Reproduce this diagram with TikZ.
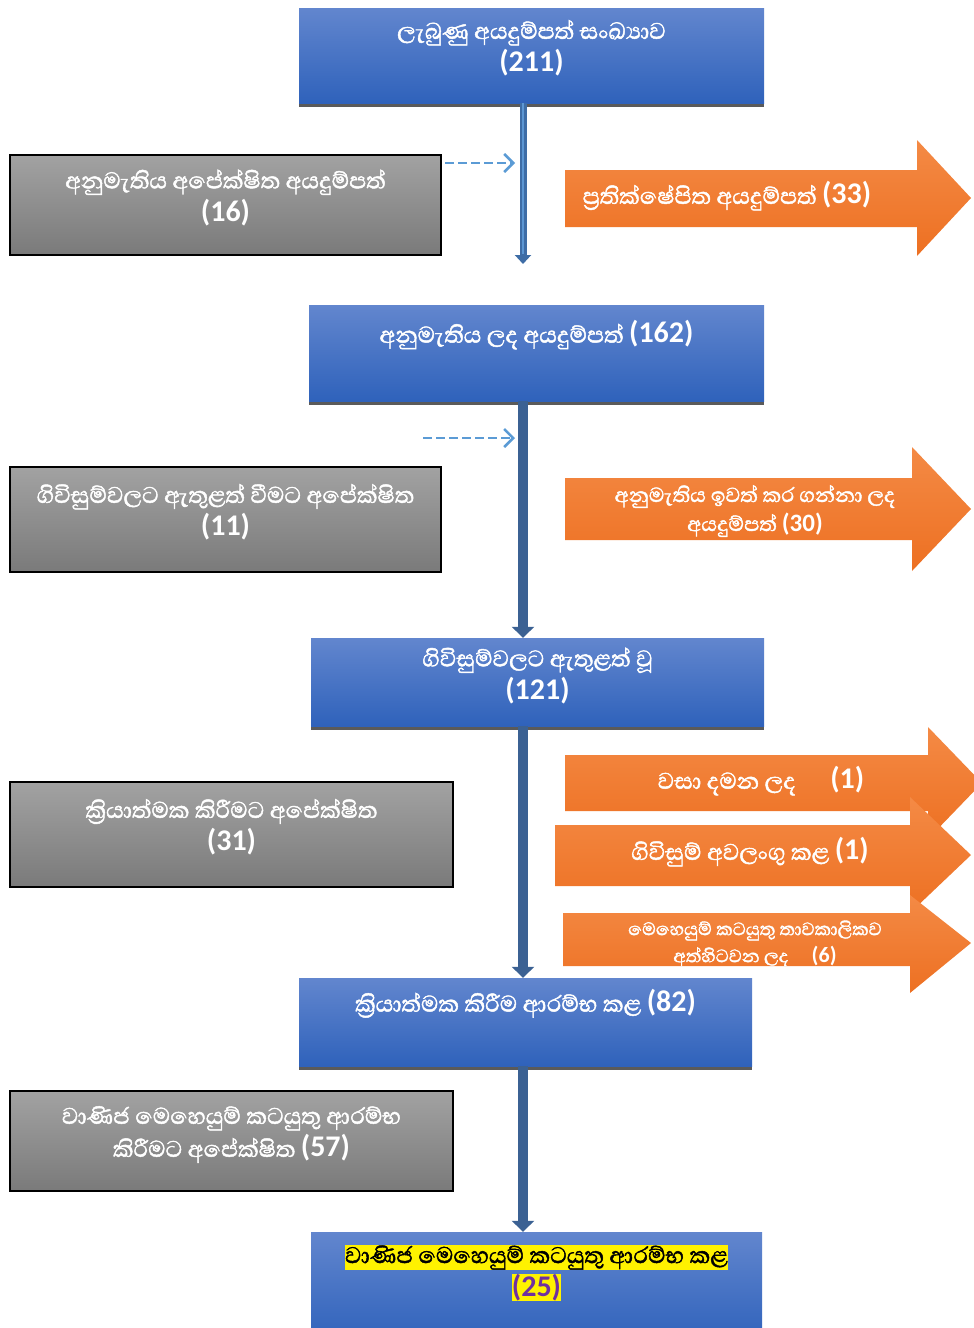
\documentclass[tikz,border=0pt]{standalone}
\usepackage{fontspec}
\setmainfont{Carlito}
\newfontfamily\sinhala[Script=Sinhala, FakeBold=1.6]{Abhaya Libre}
\usetikzlibrary{arrows.meta,shadows}
\definecolor{blueTop}{HTML}{6286CE}
\definecolor{blueBot}{HTML}{2F62BB}
\definecolor{greyTop}{HTML}{A2A2A2}
\definecolor{greyBot}{HTML}{7A7A7A}
\definecolor{orangeTop}{HTML}{F48A45}
\definecolor{orangeBot}{HTML}{ED7022}
\definecolor{barGrey}{HTML}{5A5A5A}
\definecolor{flowBlue}{HTML}{3B6193}
\definecolor{thinEdge}{HTML}{3E6DA6}
\definecolor{thinMid}{HTML}{5D97D3}
\definecolor{dashBlue}{HTML}{5B9BD5}
\definecolor{hiPurple}{HTML}{7030A0}
\newcommand\cnt[1]{{\rmfamily\bfseries\fontsize{30}{33}\selectfont(#1)}}
\newcommand\hl[1]{{\setlength\fboxsep{0pt}\colorbox{yellow}{#1}}}
\tikzset{
  boxtext/.style={text=white, align=center, inner sep=0pt,
    font=\sinhala\fontsize{29}{33}\selectfont},
  bluebox/.style={boxtext, rectangle, top color=blueTop, bottom color=blueBot,
    drop shadow={shadow xshift=0pt, shadow yshift=-4pt, fill=barGrey, opacity=1}},
  greybox/.style={boxtext, rectangle, top color=greyTop, bottom color=greyBot,
    draw=black, line width=1.2pt, text depth=19pt},
  orangearrow/.style={top color=orangeTop, bottom color=orangeBot},
  arrowtext/.style={boxtext},
  flow/.style={draw=flowBlue, line width=10pt, -{Triangle[width=22pt,length=11pt]}},
  thinflow/.style={draw=thinEdge, line width=7pt, -{Triangle[width=16pt,length=9pt]}},
  thinmid/.style={draw=thinMid, line width=2.5pt, shorten >=10pt},
  pending/.style={draw=dashBlue, line width=2.5pt, dash pattern=on 9pt off 4pt,
    -{Straight Barb[length=9pt,width=18pt,line width=2.5pt]}}
}
\begin{document}
\begin{tikzpicture}[x=1pt,y=-1pt]
\useasboundingbox (0,0) rectangle (974,1328);
\clip (0,0) rectangle (974,1328);
\coordinate (spine) at (523,0);

% main boxes
\node[bluebox, text depth=19pt, minimum width=465pt, minimum height=95pt] (recv) at (531.5,55.5)
  {ලැබුණු අයදුම්පත් සංඛ්^^^^200dයාව\\\cnt{211}};
\node[bluebox, minimum width=455pt, minimum height=96pt] (appr) at (536.5,353)
  {අනුමැතිය ලද අයදුම්පත් \cnt{162}\\\strut};
\node[bluebox, text depth=17pt, minimum width=453pt, minimum height=88pt] (sign) at (537.5,682)
  {ගිවිසුම්වලට ඇතුළත් වූ\\\cnt{121}};
\node[bluebox, minimum width=453pt, minimum height=88pt] (impl) at (525.5,1022)
  {ක්^^^^200dරියාත්මක කිරීම ආරම්භ කළ \cnt{82}\\\strut};
\node[bluebox, minimum width=451pt, minimum height=110pt] (comm) at (536.5,1287) {};
\node[boxtext, text=black] (commtext) at (536.5,1273)
  {\hl{වාණිජ මෙහෙයුම් කටයුතු ආරම්භ කළ}\\\hl{\color{hiPurple}\cnt{25}}};

% pending boxes
\node[greybox, minimum width=431pt, minimum height=100pt] (pend1) at (225.5,205)
  {අනුමැතිය අපේක්ෂිත අයදුම්පත්\\\cnt{16}};
\node[greybox, minimum width=431pt, minimum height=105pt] (pend2) at (225.5,519.5)
  {ගිවිසුම්වලට ඇතුළත් වීමට අපේක්ෂිත\\\cnt{11}};
\node[greybox, minimum width=443pt, minimum height=105pt] (pend3) at (231.5,834.5)
  {ක්^^^^200dරියාත්මක කිරීමට අපේක්ෂිත\\\cnt{31}};
\node[greybox, minimum width=443pt, minimum height=100pt] (pend4) at (231.5,1141)
  {වාණිජ මෙහෙයුම් කටයුතු ආරම්භ\\කිරීමට අපේක්ෂිත \cnt{57}};

% orange arrows
\shade[orangearrow] (565,170) -- (917,170) -- (917,140) -- (971,198) -- (917,256) -- (917,227) -- (565,227) -- cycle;
\node[arrowtext] (rej) at (727,196) {ප්^^^^200dරතික්ෂේපිත අයදුම්පත් \cnt{33}};
\shade[orangearrow] (565,478) -- (912,478) -- (912,447) -- (971,509) -- (912,571) -- (912,540) -- (565,540) -- cycle;
\node[arrowtext, font=\sinhala\fontsize{26}{29}\selectfont] (wdr) at (755,511)
  {අනුමැතිය ඉවත් කර ගන්නා ලද\\අයදුම්පත් {\rmfamily\bfseries\fontsize{25}{29}\selectfont(30)}};
\shade[orangearrow] (565,755) -- (928,755) -- (928,727) -- (982,783) -- (928,839) -- (928,811) -- (565,811) -- cycle;
\node[arrowtext] (closed) at (761,781) {වසා දමන ලද\quad\ \cnt{1}};
\shade[orangearrow] (555,825) -- (910,825) -- (910,797) -- (971,855) -- (910,913) -- (910,886) -- (555,886) -- cycle;
\node[arrowtext] (cancel) at (750,852) {ගිවිසුම් අවලංගු කළ \cnt{1}};
\begin{scope}
\clip (563,913) -- (910,913) -- (910,895) -- (971,943) -- (910,993) -- (910,966) -- (563,966) -- cycle;
\shade[orangearrow] (563,913) -- (910,913) -- (910,895) -- (971,943) -- (910,993) -- (910,966) -- (563,966) -- cycle;
\node[arrowtext, font=\sinhala\fontsize{23}{27}\selectfont] (susp) at (755,944)
  {මෙහෙයුම් කටයුතු තාවකාලිකව\\අත්හිටවන ලද\quad {\rmfamily\bfseries\fontsize{22}{27}\selectfont(6)}};
\end{scope}

% connectors
\coordinate (tip1) at (523,264);
\draw[thinflow] (spine |- recv.south) -- (tip1);
\draw[thinmid] (spine |- recv.south) -- (tip1);
\draw[flow] (spine |- appr.south) -- (spine |- sign.north);
\draw[flow] (spine |- sign.south) -- (spine |- impl.north);
\draw[flow] (spine |- impl.south) -- (spine |- comm.north);
\coordinate (dash1) at (445,163);
\coordinate (dash2) at (423,438);
\draw[pending] (dash1) -- (dash1 -| 515,0);
\draw[pending] (dash2) -- (dash2 -| 515,0);
\end{tikzpicture}
\end{document}
